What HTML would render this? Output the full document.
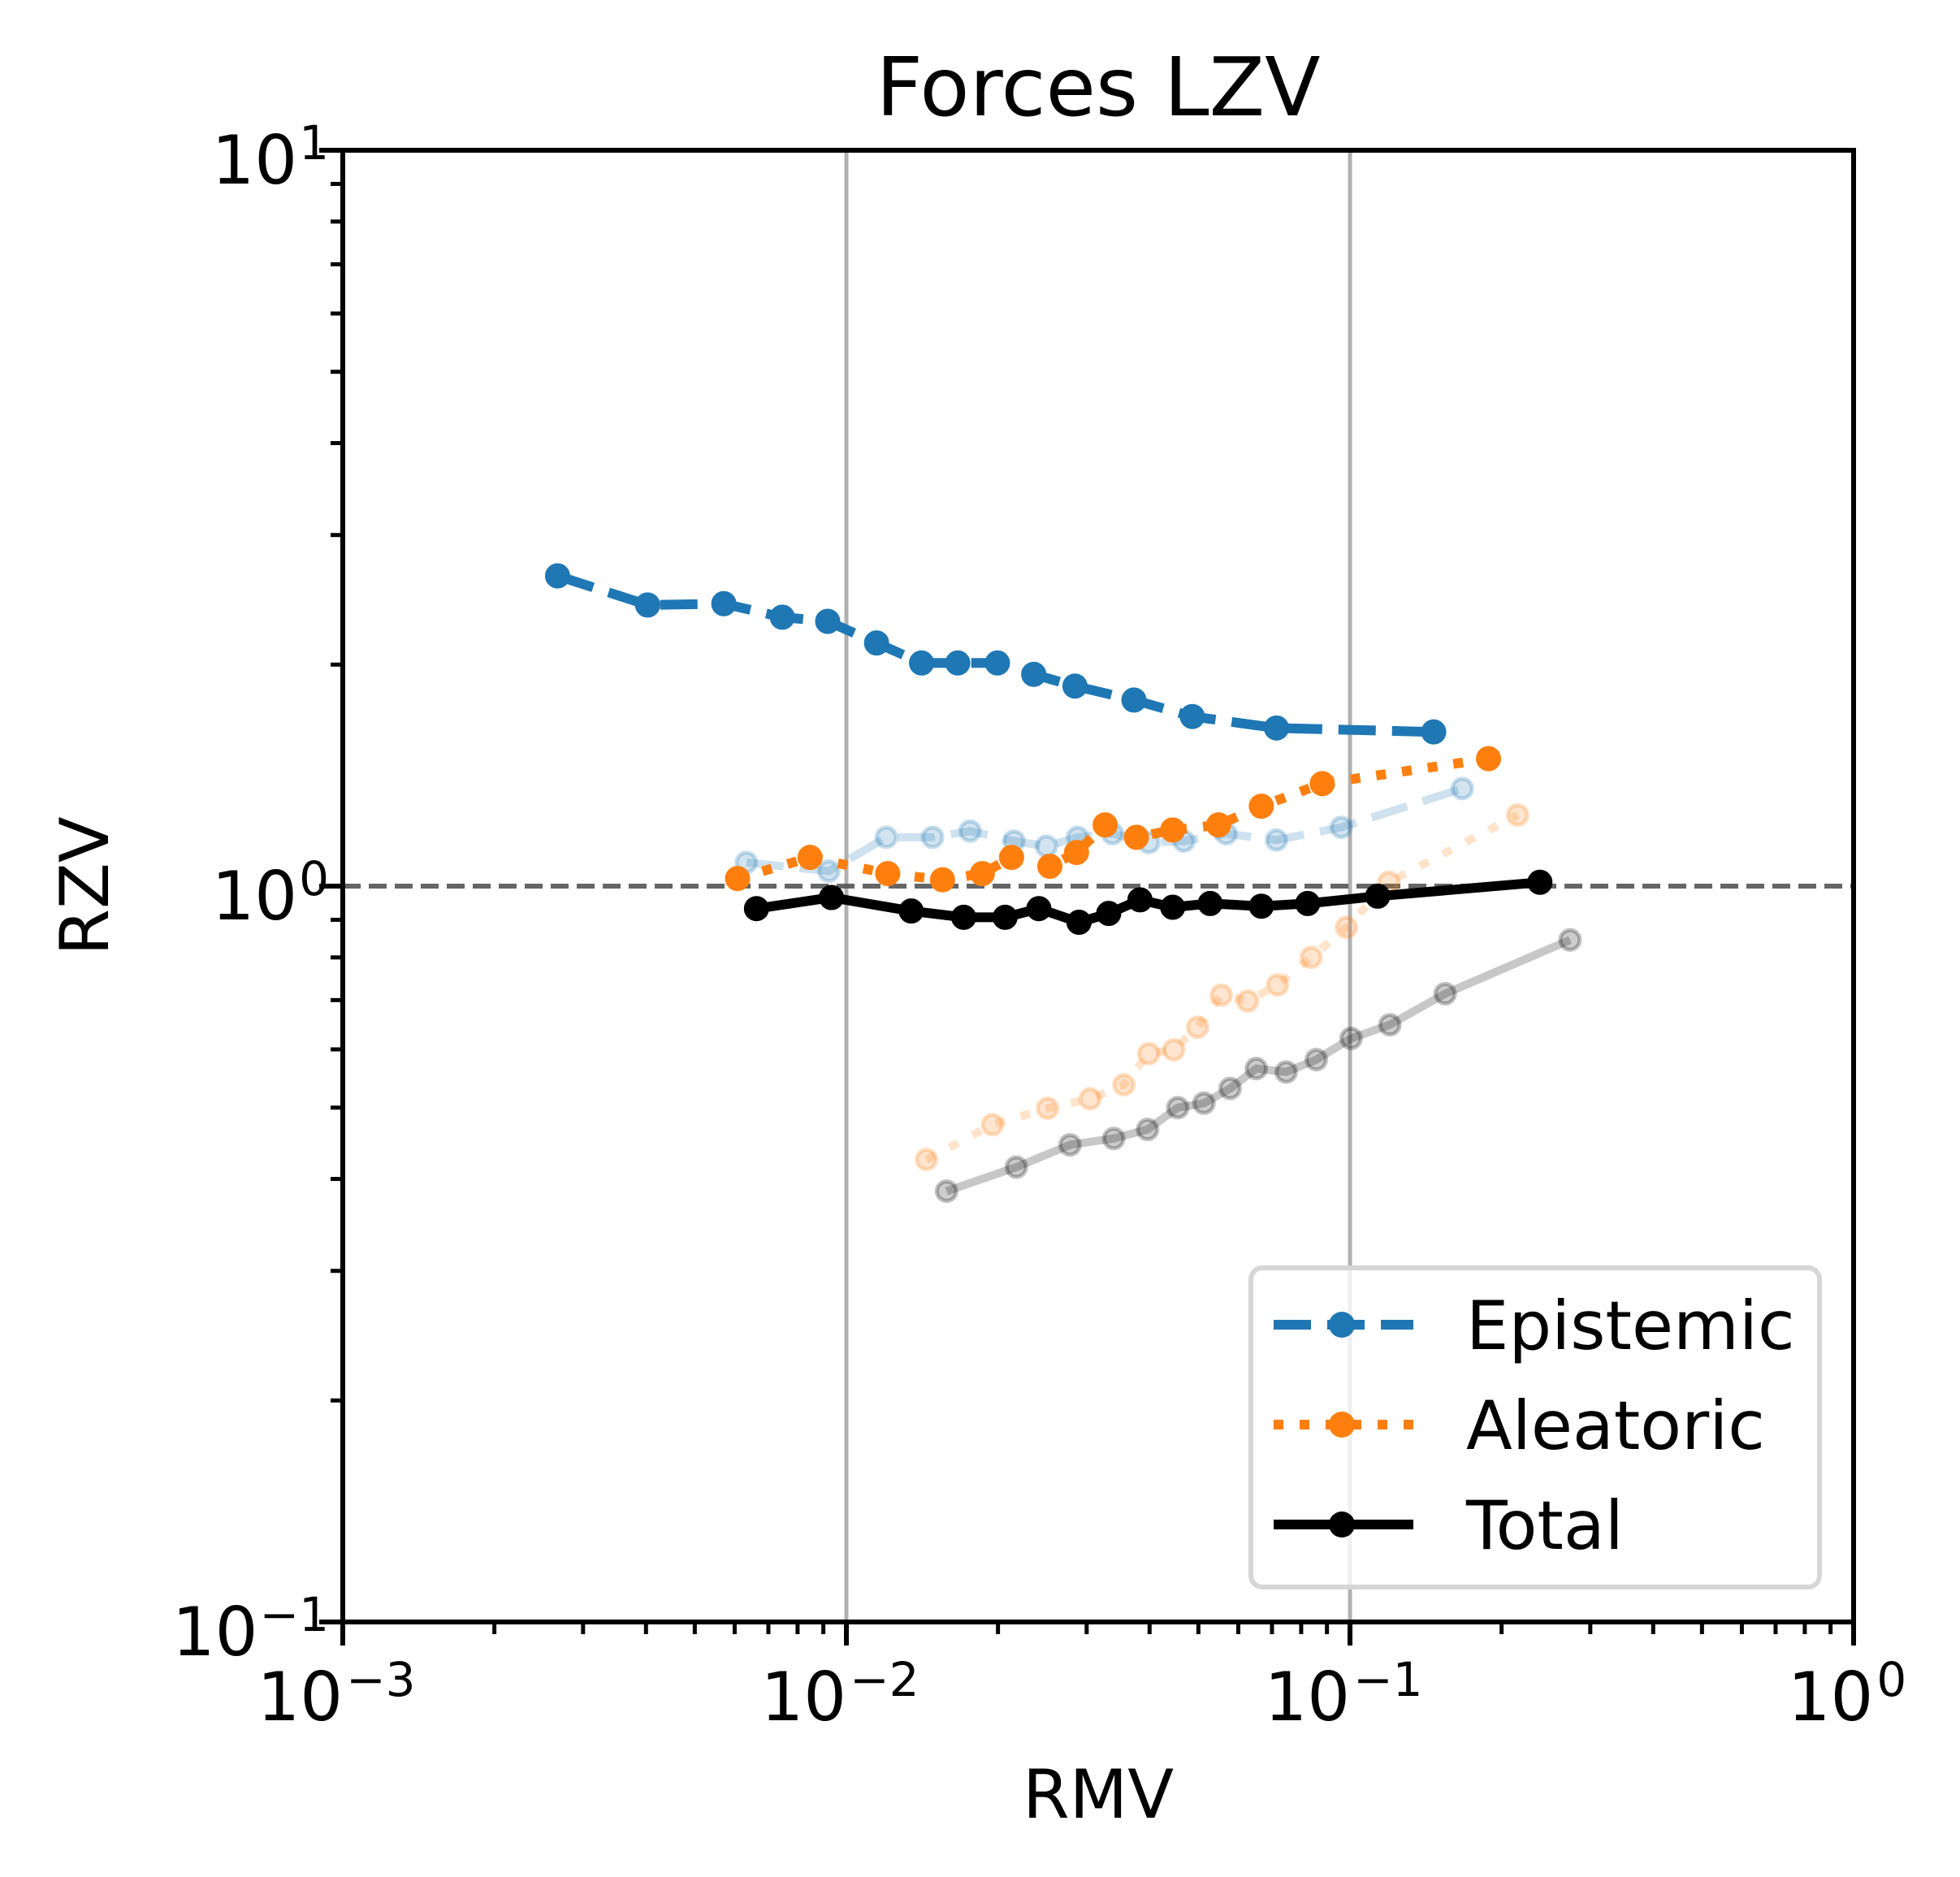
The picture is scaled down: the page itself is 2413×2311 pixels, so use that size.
<!DOCTYPE html>
<html><head><meta charset="utf-8"><style>
html,body{margin:0;padding:0;background:#fff;}
svg{display:block;font-family:"DejaVu Sans","Liberation Sans",sans-serif;}
</style></head><body>
<svg id="chart" width="2413" height="2311" viewBox="0 0 2413 2311" xmlns="http://www.w3.org/2000/svg">
<rect width="2413" height="2311" fill="#fff"/>
<g id="grid"></g>
<g id="series"></g>
<g id="axes"></g>
<text x="1352" y="142" font-size="100" text-anchor="middle">Forces LZV</text>
<text x="1352" y="2238" font-size="83" text-anchor="middle">RMV</text>
<text x="0" y="0" font-size="83" text-anchor="middle" transform="translate(133,1091) rotate(-90)">RZV</text>
<g id="legend"></g>
</svg>
<script>
const epiX=[0.00267,0.00403,0.00571,0.00746,0.00918,0.01148,0.0141,0.01664,0.01995,0.02355,0.02844,0.03724,0.04864,0.07145,0.1466];
const epiY=[2.64,2.41,2.42,2.32,2.29,2.14,2.01,2.01,2.01,1.94,1.87,1.79,1.70,1.64,1.62];
const aleX=[0.00608,0.00847,0.01208,0.01552,0.01862,0.02128,0.02535,0.02864,0.03265,0.03767,0.04446,0.05483,0.06668,0.0881,0.1884];
const aleY=[1.024,1.094,1.040,1.020,1.040,1.094,1.064,1.111,1.211,1.165,1.192,1.211,1.284,1.378,1.490];
const totX=[0.00663,0.00934,0.01345,0.0171,0.02066,0.02411,0.02897,0.03318,0.03828,0.04446,0.05277,0.06668,0.08241,0.1135,0.2383];
const totY=[0.932,0.965,0.925,0.907,0.907,0.932,0.893,0.918,0.958,0.936,0.947,0.939,0.947,0.969,1.012];
const epiFadeX=[0.00633,0.00923,0.012,0.01483,0.0176,0.02152,0.02495,0.02877,0.03378,0.03985,0.04677,0.05678,0.07145,0.0961,0.1671];
const epiFadeY=[1.077,1.048,1.165,1.165,1.188,1.151,1.133,1.165,1.178,1.146,1.151,1.178,1.155,1.202,1.357];
const aleFadeX=[0.01442,0.0195,0.02509,0.03048,0.03556,0.03985,0.04467,0.0498,0.05551,0.06262,0.07178,0.08375,0.0984,0.1194,0.2152];
const aleFadeY=[0.425,0.474,0.499,0.514,0.537,0.592,0.599,0.643,0.711,0.698,0.734,0.800,0.879,1.012,1.249];
const totFadeX=[0.01581,0.02175,0.0278,0.03396,0.03963,0.0455,0.05129,0.05781,0.06516,0.07469,0.08572,0.1005,0.12,0.1545,0.2735];
const totFadeY=[0.385,0.415,0.445,0.454,0.467,0.500,0.507,0.531,0.565,0.559,0.581,0.621,0.648,0.714,0.845];
const xTickExps=["-3","-2","-1","0"];
const yTickExps=["-1","0","1"];

const NS="http://www.w3.org/2000/svg";
const L=422,R=2282,T=185,B=1997;
function sx(v){return L+(Math.log10(v)+3)/3*(R-L);}
function sy(v){return B-(Math.log10(v)+1)/2*(B-T);}
function mk(tag,attrs,parent){const e=document.createElementNS(NS,tag);for(const k in attrs)e.setAttribute(k,attrs[k]);parent.appendChild(e);return e;}
const grid=document.getElementById('grid'),ser=document.getElementById('series'),axes=document.getElementById('axes'),leg=document.getElementById('legend');

[0.01,0.1].forEach(v=>{
  const g=mk('line',{x1:sx(v),x2:sx(v),y1:T,y2:B,stroke:'#b0b0b0','stroke-width':5},grid);
  
  
});
const ref=mk('line',{x1:L,x2:R,y1:sy(1),y2:sy(1),stroke:'#555','stroke-width':6,'stroke-dasharray':'22 10',opacity:0.9},grid);



function series(xs,ys,color,dash,name,faded){
  const g=mk('g',{},ser);
  
  
  const pts=xs.map((x,i)=>sx(x).toFixed(1)+','+sy(ys[i]).toFixed(1)).join(' ');
  const pl=mk('polyline',{points:pts,fill:'none',stroke:color,'stroke-width':faded?10:12,'stroke-linejoin':'round','stroke-dasharray':dash,opacity:faded?0.22:1},g);
  
  
  xs.forEach((x,i)=>{
    const c=mk('circle',{cx:sx(x),cy:sy(ys[i]),r:faded?12:15,fill:color,'fill-opacity':faded?0.2:1,stroke:color,'stroke-opacity':faded?0.25:1,'stroke-width':faded?5:1},g);
    
    
  });
}
series(totFadeX,totFadeY,'#000','none','total-faded',true);
series(aleFadeX,aleFadeY,'#ff7f0e','12 20','aleatoric-faded',true);
series(epiFadeX,epiFadeY,'#1f77b4','46 20','epistemic-faded',true);
series(epiX,epiY,'#1f77b4','46 20','epistemic',false);
series(aleX,aleY,'#ff7f0e','12 20','aleatoric',false);
series(totX,totY,'#000','none','total',false);

const frame=mk('rect',{x:L,y:T,width:R-L,height:B-T,fill:'none',stroke:'#000','stroke-width':6},axes);


xTickExps.forEach(e=>{
  const x=sx(Math.pow(10,+e));
  mk('line',{x1:x,x2:x,y1:B,y2:B+29,stroke:'#000','stroke-width':6},axes);
  const t=mk('text',{x:x-8,y:2118,'font-size':83,'text-anchor':'middle'},axes);
  
  
  t.textContent='10';
  const s=mk('tspan',{dy:-30,'font-size':58,dx:4},t);
  s.textContent=e.replace('-','\u2212');
  if(+e<0){for(let m=2;m<=9;m++){const xm=sx(m*Math.pow(10,+e));mk('line',{x1:xm,x2:xm,y1:B,y2:B+15,stroke:'#000','stroke-width':5},axes);}}
});
yTickExps.forEach(e=>{
  const y=sy(Math.pow(10,+e));
  mk('line',{x1:L-29,x2:L,y1:y,y2:y,stroke:'#000','stroke-width':6},axes);
  const t=mk('text',{x:405,y:y+41,'font-size':83,'text-anchor':'end'},axes);
  
  
  t.textContent='10';
  const s=mk('tspan',{dy:-30,'font-size':58,dx:2},t);
  s.textContent=e.replace('-','\u2212');
  if(+e<1){for(let m=2;m<=9;m++){const ym=sy(m*Math.pow(10,+e));mk('line',{x1:L-15,x2:L,y1:ym,y2:ym,stroke:'#000','stroke-width':5},axes);}}
});

const box=mk('rect',{x:1540,y:1561,width:700,height:393,rx:14,fill:'#fff','fill-opacity':0.8,stroke:'#d6d6d6','stroke-width':6},leg);


[['Epistemic','#1f77b4','46 20',1631],['Aleatoric','#ff7f0e','12 20',1754],['Total','#000','none',1877]].forEach(([lab,c,d,y])=>{
  const g=mk('g',{},leg);
  
  
  mk('line',{x1:1568,x2:1740,y1:y,y2:y,stroke:c,'stroke-width':12,'stroke-dasharray':d},g);
  mk('circle',{cx:1652,cy:y,r:16,fill:c},g);
  const t=mk('text',{x:1805,y:y+30,'font-size':83},g);
  t.textContent=lab;
});
</script>
</body></html>
